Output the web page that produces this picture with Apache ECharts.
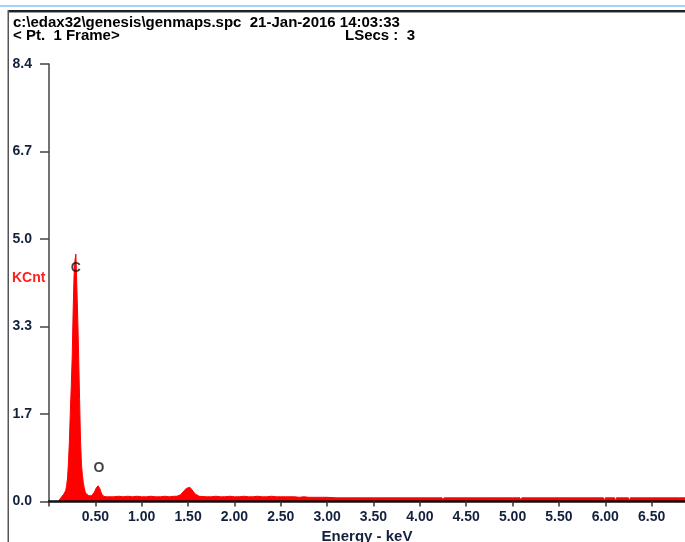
<!DOCTYPE html>
<html>
<head>
<meta charset="utf-8">
<script src="https://cdn.jsdelivr.net/npm/echarts@6/dist/echarts.min.js"></script>
<style>
html,body{margin:0;padding:0;background:#fff;}
#chart{width:685px;height:542px;}
</style>
</head>
<body>
<div id="chart"></div>
<script>
// ---- data ----
const energyKeV = [
  0.10,0.11,0.12,0.13,0.14,0.15,0.16,0.17,0.18,0.19,
  0.20,0.21,0.22,0.23,0.24,0.25,0.26,0.27,0.28,0.29,
  0.30,0.31,0.32,0.33,0.34,0.35,0.36,0.37,0.38,0.39,
  0.40,0.41,0.42,0.43,0.44,0.45,0.46,0.47,0.48,0.49,
  0.50,0.51,0.52,0.53,0.54,0.55,0.56,0.57,0.58,0.59,
  0.60,0.62,0.64,0.66,0.70,0.75,0.80,0.85,0.90,0.95,
  1.00,1.05,1.10,1.15,1.20,1.25,1.30,1.35,1.38,1.40,
  1.42,1.44,1.46,1.48,1.50,1.52,1.54,1.56,1.58,1.60,
  1.62,1.64,1.70,1.75,1.80,1.85,1.90,1.95,2.00,2.05,
  2.10,2.15,2.20,2.25,2.30,2.35,2.40,2.45,2.50,2.55,
  2.60,2.65,2.70,2.75,2.80,2.85,2.90,2.95,3.00,3.10,
  3.20,3.30,3.40,3.50,3.60,3.70,3.80,3.90,4.00,4.10,
  4.20,4.24,4.25,4.26,4.30,4.40,4.50,4.60,4.70,4.80,
  4.90,5.00,5.08,5.09,5.10,5.20,5.30,5.40,5.50,5.60,
  5.70,5.80,5.90,5.98,5.99,6.00,6.05,6.10,6.11,6.12,
  6.20,6.25,6.26,6.27,6.30,6.40,6.50,6.60,6.70,6.80,
  6.86
];
const kcnt = [
  0.00,0.02,0.05,0.08,0.10,0.12,0.14,0.17,0.21,0.30,
  0.45,0.75,1.15,1.70,2.20,2.75,3.60,4.30,4.60,4.72,
  4.10,3.50,2.75,1.95,1.15,0.72,0.50,0.36,0.26,0.19,
  0.15,0.13,0.12,0.11,0.11,0.12,0.11,0.12,0.14,0.18,
  0.22,0.26,0.29,0.30,0.28,0.24,0.18,0.14,0.11,0.10,
  0.09,0.09,0.10,0.09,0.09,0.10,0.09,0.10,0.09,0.10,
  0.09,0.09,0.10,0.09,0.09,0.10,0.09,0.10,0.10,0.11,
  0.13,0.16,0.21,0.25,0.27,0.27,0.23,0.18,0.14,0.11,
  0.10,0.09,0.09,0.09,0.10,0.09,0.09,0.10,0.09,0.09,
  0.10,0.09,0.09,0.10,0.09,0.09,0.10,0.09,0.09,0.09,
  0.09,0.09,0.08,0.09,0.08,0.08,0.08,0.08,0.08,0.07,
  0.07,0.07,0.07,0.07,0.07,0.07,0.07,0.07,0.07,0.07,
  0.07,0.07,0.00,0.07,0.07,0.07,0.07,0.07,0.07,0.07,
  0.07,0.07,0.07,0.00,0.07,0.07,0.07,0.07,0.07,0.07,
  0.07,0.07,0.07,0.07,0.00,0.07,0.07,0.07,0.00,0.07,
  0.07,0.07,0.00,0.07,0.07,0.07,0.07,0.07,0.07,0.07,
  0.07
];
const xTickValues = [0.5,1.0,1.5,2.0,2.5,3.0,3.5,4.0,4.5,5.0,5.5,6.0,6.5];
const yTickValues = [0, 1.67, 3.34, 5.01, 6.68, 8.35];
const yTickLabels = ['0.0','1.7','3.3','5.0','6.7','8.4'];
const peakNames = ['C','O'];
const peakEnergy = [0.29, 0.54];
const peakLabelKcnt = [4.46, 0.64];
const headerLine1 = 'c:\\edax32\\genesis\\genmaps.spc  21-Jan-2016 14:03:33';
const headerLine2 = '< Pt.  1 Frame>';
const headerRight = 'LSecs :  3';
const xAxisTitle = 'Energy - keV';
const yAxisTitle = 'KCnt';

const FONT = '"Liberation Sans", Arial, sans-serif';
const chart = echarts.init(document.getElementById('chart'), null, {renderer:'canvas'});

const spectrum = energyKeV.map((e,i)=>[e,kcnt[i]]);
const peaks = peakNames.map((n,i)=>({value:[peakEnergy[i], peakLabelKcnt[i]], name:n}));

chart.setOption({
  animation:false,
  backgroundColor:'#fff',
  grid:{left:49, top:64, right:0, bottom:40.5, containLabel:false, outerBoundsMode:'none'},
  xAxis:{
    type:'value', min:0, max:6.86,
    z:5,
    axisLine:{show:true, onZero:false, lineStyle:{color:'#111', width:2.5}},
    axisTick:{show:true, length:5, customValues:[0].concat(xTickValues), lineStyle:{color:'#333', width:1.5}},
    axisLabel:{show:true, customValues:xTickValues, margin:9, color:'#14213d',
      fontFamily:FONT, fontWeight:'bold', fontSize:14,
      formatter:(v)=>Number(v).toFixed(2)},
    splitLine:{show:false},
    name:xAxisTitle, nameLocation:'middle', nameGap:24,
    nameTextStyle:{color:'#14213d', fontFamily:FONT, fontWeight:'bold', fontSize:15}
  },
  yAxis:{
    type:'value', min:0, max:8.35,
    axisLine:{show:true, lineStyle:{color:'#444', width:1.5}},
    axisTick:{show:true, length:9, customValues:yTickValues, lineStyle:{color:'#444', width:1.5}},
    axisLabel:{show:true, customValues:yTickValues, margin:17, color:'#14213d',
      fontFamily:FONT, fontWeight:'bold', fontSize:14,
      formatter:(v)=>{const k=yTickValues.findIndex(t=>Math.abs(t-v)<1e-6);return k>=0?yTickLabels[k]:'';}},
    splitLine:{show:false}
  },
  graphic:[
    {type:'rect', shape:{x:0,y:5,width:685,height:2}, style:{fill:'#a9d1f3'}, silent:true},
    {type:'rect', shape:{x:8,y:10,width:677,height:2}, style:{fill:'#222'}, silent:true},
    {type:'rect', shape:{x:8,y:12,width:677,height:1}, style:{fill:'#999'}, silent:true},
    {type:'rect', shape:{x:7.5,y:10,width:1.5,height:532}, style:{fill:'#555'}, silent:true},
    {type:'text', left:13, top:15, style:{text:headerLine1, fill:'#000', font:'bold 15px '+FONT}},
    {type:'text', left:13, top:28, style:{text:headerLine2, fill:'#000', font:'bold 15px '+FONT}},
    {type:'text', left:345, top:28, style:{text:headerRight, fill:'#000', font:'bold 15px '+FONT}},
    {type:'text', left:12, top:271, style:{text:yAxisTitle, fill:'#ff1f1f', font:'bold 14px '+FONT}}
  ],
  series:[
    {
      type:'line', data:spectrum, showSymbol:false, symbol:'none',
      lineStyle:{color:'#ff0000', width:1},
      areaStyle:{color:'#ff0000', opacity:1},
      z:2
    },
    {
      type:'scatter', data:peaks, symbolSize:0, z:6,
      label:{show:true, position:'inside', formatter:(p)=>p.name, color:'#111',
        fontFamily:FONT, fontWeight:'bold', fontSize:14}
    }
  ]
});
</script>
</body>
</html>
